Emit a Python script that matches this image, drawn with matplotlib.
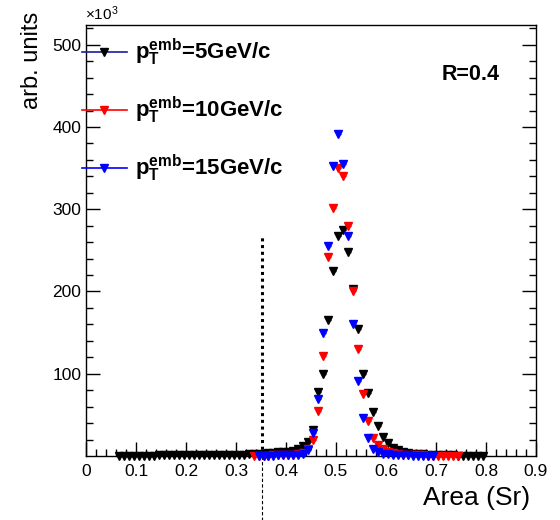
import numpy as np
import matplotlib
matplotlib.use("Agg")
import matplotlib.pyplot as plt
from matplotlib.lines import Line2D

plt.rcParams['font.family'] = ['Liberation Sans', 'DejaVu Sans']
plt.rcParams['mathtext.fontset'] = 'custom'
plt.rcParams['mathtext.rm'] = 'Liberation Sans'
plt.rcParams['mathtext.bf'] = 'Liberation Sans:bold'
plt.rcParams['mathtext.it'] = 'Liberation Sans:italic'

# ---- data (x10^3) ----
black_start = 0.065
black_vals = [0.2, 0.3, 0.3, 0.4, 0.4, 0.5, 0.5, 0.5, 0.6, 0.6, 0.7, 0.7, 0.8, 0.8,
              0.9, 0.9, 1.0, 1.0, 1.1, 1.2, 1.2, 1.3, 1.4, 1.5,
              1.6, 1.8, 2.0, 2.2, 2.5, 2.8, 3.2, 3.7, 4.3, 5.0,
              5.0, 6.0, 8.0, 12.5, 17.0, 31.0, 78.0, 100.0, 165.0, 225.0,
              268.0, 275.0, 248.0, 203.0, 155.0, 100.0, 76.0, 53.0, 36.0, 23.5,
              15.5, 10.0, 7.0, 5.0, 3.8, 3.0, 2.4, 2.0, 1.6, 1.3,
              1.1, 0.9, 0.8, 0.6, 0.5, 0.4, 0.3, 0.3, 0.2, 0.2]

red_start = 0.335
red_vals = [0.3, 0.3, 0.4, 0.5, 0.6, 0.8, 1.0, 1.3, 1.8, 2.5,
            4.0, 8.0, 20.0, 55.0, 122.0, 242.0, 302.0, 350.0, 340.0, 280.0,
            200.0, 130.0, 75.6, 42.0, 22.0, 13.0, 8.0, 5.0, 3.5, 2.5,
            1.8, 1.3, 1.0, 0.8, 0.6, 0.5, 0.4, 0.3, 0.3, 0.2, 0.2, 0.1]

blue_start = 0.345
blue_vals = [0.3, 0.3, 0.4, 0.5, 0.6, 0.8, 1.0, 1.3, 1.8, 2.8,
             7.0, 28.0, 69.0, 150.0, 255.0, 352.0, 392.0, 355.0, 268.0, 160.0,
             91.0, 46.0, 22.0, 9.0, 5.0, 3.0, 2.0, 1.5, 1.1, 0.8,
             0.6, 0.5, 0.4, 0.3, 0.2, 0.2]

bin_width = 0.01
labels = [r"$\mathbf{p_{T}^{emb}}$=5GeV/c",
          r"$\mathbf{p_{T}^{emb}}$=10GeV/c",
          r"$\mathbf{p_{T}^{emb}}$=15GeV/c"]
marker_colors = ['black', 'red', '#0000ff']
legend_line_colors = ['#1c1c9c', 'red', '#0000ff']
cut_x = 0.352
cut_top = 266

fig = plt.figure(figsize=(5.6, 5.2), dpi=100)
ax = fig.add_axes([0.1536, 0.1231, 0.8035, 0.8288])

series = [(black_start, black_vals), (red_start, red_vals), (blue_start, blue_vals)]
for (start, vals), col in zip(series, marker_colors):
    x = start + bin_width * np.arange(len(vals))
    ax.errorbar(x, vals, xerr=bin_width / 2, yerr=2.5, fmt='v', color=col, ms=5.5,
                mec=col, mfc=col, elinewidth=1.0, capsize=0, clip_on=False,
                zorder=3)

ax.set_xlim(0, 0.9)
ax.set_ylim(0, 524)
ax.set_xticks(np.arange(0, 0.91, 0.1))
ax.set_xticklabels(['0', '0.1', '0.2', '0.3', '0.4', '0.5', '0.6', '0.7', '0.8', '0.9'])
ax.set_xticks(np.arange(0, 0.9001, 0.02), minor=True)
ax.set_yticks([100, 200, 300, 400, 500])
ax.set_yticks(np.arange(20, 521, 20), minor=True)
ax.tick_params(which='both', direction='in', right=True, top=False, labelsize=12.5,
               width=1.0)
ax.tick_params(which='major', length=10)
ax.tick_params(which='minor', length=5)
ax.tick_params(axis='x', pad=6)
for s in ax.spines.values():
    s.set_linewidth(1.0)

# cut line
ax.plot([cut_x, cut_x], [0, cut_top], color='black', lw=2.2, ls=(0, (1, 1.2)), zorder=2)
ax.plot([cut_x, cut_x], [0, -0.149], color='black', lw=0.8, ls=(0, (3, 2)),
        transform=ax.get_xaxis_transform(), clip_on=False)

ax.set_xlabel('Area (Sr)', fontsize=19, ha='right')
ax.xaxis.set_label_coords(0.988, -0.07)
ax.set_ylabel('arb. units', fontsize=17, ha='right')
ax.yaxis.set_label_coords(-0.095, 1.03)

fig.text(0.152, 0.955, r'$\times10^{3}$', fontsize=11, ha='left', va='bottom')
fig.text(0.892, 0.856, 'R=0.4', fontsize=15.5, fontweight='bold', ha='right', va='center')

# legend
leg_y = [52, 110, 168]
for yy, lab, mc, lc in zip(leg_y, labels, marker_colors, legend_line_colors):
    yf = 1 - yy / 520
    fig.add_artist(Line2D([82 / 560, 127 / 560], [yf, yf], color=lc, lw=1.2))
    fig.add_artist(Line2D([104 / 560], [yf], marker='v', color=mc, ms=5.5))
    fig.text(135 / 560, yf, lab, fontsize=16, fontweight='bold', ha='left', va='center')

fig.savefig('out.png', dpi=100)
